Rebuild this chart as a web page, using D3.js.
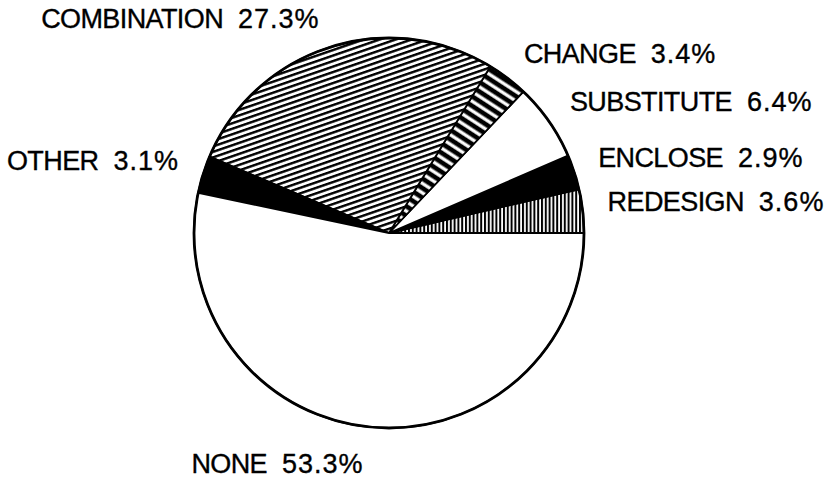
<!DOCTYPE html>
<html>
<head>
<meta charset="utf-8">
<script src="https://cdn.jsdelivr.net/npm/d3@7"></script>
<style>
  html, body { margin: 0; padding: 0; background: #fff; }
  svg { display: block; }
</style>
</head>
<body>
<svg id="chart" width="824" height="480"></svg>
<script>
// Slices in drawing order, counter-clockwise from 3 o'clock
const categories = ["REDESIGN", "ENCLOSE", "SUBSTITUTE", "CHANGE", "COMBINATION", "OTHER", "NONE"];
const shares = [3.6, 2.9, 6.4, 3.4, 27.3, 3.1, 53.3];

// Fill used for each slice (solid or hatch pattern)
const sliceFill = {
  REDESIGN: "url(#vlines)",
  ENCLOSE: "#000",
  SUBSTITUTE: "#fff",
  CHANGE: "url(#bars)",
  COMBINATION: "url(#hatch)",
  OTHER: "#000",
  NONE: "#fff"
};

const cx = 389, cy = 233, R = 195, labelR = 217;

const svg = d3.select("#chart");
const defs = svg.append("defs");

// Fine rising hatch
const hatch = defs.append("pattern")
  .attr("id", "hatch").attr("patternUnits", "userSpaceOnUse")
  .attr("width", 10).attr("height", 5.2)
  .attr("patternTransform", "rotate(-19)");
hatch.append("rect").attr("width", 10).attr("height", 5.2).attr("fill", "#fff");
hatch.append("rect").attr("width", 10).attr("height", 2.4).attr("fill", "#000");

// Heavy bars across the slice
const bars = defs.append("pattern")
  .attr("id", "bars").attr("patternUnits", "userSpaceOnUse")
  .attr("width", 10).attr("height", 8)
  .attr("patternTransform", "rotate(33)");
bars.append("rect").attr("width", 10).attr("height", 8).attr("fill", "#000");
bars.append("rect").attr("y", 2.5).attr("width", 10).attr("height", 3.3).attr("fill", "#fff");

// Dense vertical lines
const vlines = defs.append("pattern")
  .attr("id", "vlines").attr("patternUnits", "userSpaceOnUse")
  .attr("width", 3.8).attr("height", 10);
vlines.append("rect").attr("width", 3.8).attr("height", 10).attr("fill", "#fff");
vlines.append("rect").attr("width", 2).attr("height", 10).attr("fill", "#000");

const pie = d3.pie()
  .value(d => d)
  .sort(null)
  .startAngle(Math.PI / 2)
  .endAngle(Math.PI / 2 - 2 * Math.PI);

const arcs = pie(shares);
const arc = d3.arc().innerRadius(0).outerRadius(R);
const labelArc = d3.arc().innerRadius(labelR).outerRadius(labelR);

const g = svg.append("g").attr("transform", `translate(${cx},${cy})`);

g.selectAll("path.slice")
  .data(arcs)
  .join("path")
  .attr("class", "slice")
  .attr("d", arc)
  .attr("fill", (d, i) => sliceFill[categories[i]])
  .attr("stroke", "#000")
  .attr("stroke-width", 1.8)
  .attr("stroke-linejoin", "round");

g.append("circle")
  .attr("r", R)
  .attr("fill", "none")
  .attr("stroke", "#000")
  .attr("stroke-width", 2.8);

const labels = g.selectAll("text.label")
  .data(arcs)
  .join("text")
  .attr("class", "label")
  .each(function (d) {
    const [x, y] = labelArc.centroid(d);
    const right = x > 0;
    d3.select(this)
      .attr("x", x + (right ? 3 : -3))
      .attr("y", y + (y > 100 ? 24 : 2))
      .attr("text-anchor", right ? "start" : "end");
  })
  .attr("font-family", "'Liberation Sans', Arial, sans-serif")
  .attr("font-size", 27)
  .attr("fill", "#000")
  .attr("stroke", "#000")
  .attr("stroke-width", 0.35);

labels.append("tspan")
  .attr("letter-spacing", -0.6)
  .text((d, i) => categories[i]);
labels.append("tspan")
  .attr("dx", 15)
  .attr("letter-spacing", 1)
  .text((d, i) => `${shares[i].toFixed(1)}%`);
</script>
</body>
</html>
